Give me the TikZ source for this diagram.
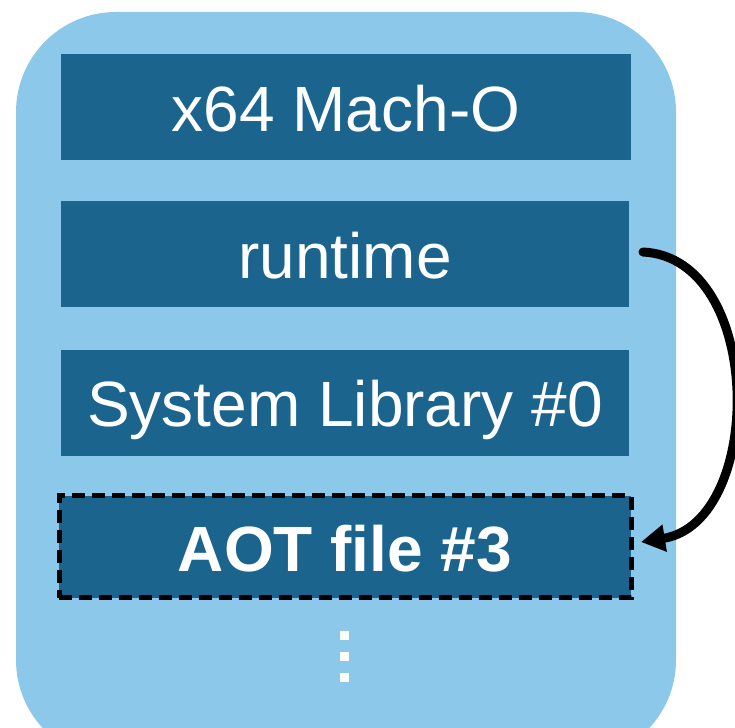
\documentclass[tikz,border=0pt]{standalone}
\usepackage{fontspec}
\setmainfont{Liberation Sans}
\usetikzlibrary{arrows.meta}
\definecolor{outerblue}{HTML}{8CC8EA}
\definecolor{boxblue}{HTML}{1B648E}
\tikzset{
  layer/.style={fill=boxblue, draw=none, text=white, text height=77pt, text depth=29pt, inner sep=0pt, font=\fontsize{64}{64}\selectfont},
  dashedlayer/.style={layer, text height=76pt, text depth=26pt, draw=black, line width=5pt, dash pattern=on 13pt off 7pt, font=\fontsize{64}{64}\selectfont\bfseries},
  jumparrow/.style={line width=9pt, line cap=round, -{Triangle[length=24pt,width=26pt]}},
  dotsq/.style={fill=white, draw=none, minimum size=9pt, inner sep=0pt}
}
\begin{document}
\begin{tikzpicture}[x=1pt,y=-1pt]
\useasboundingbox (0,0) rectangle (735,727);
\fill[outerblue, rounded corners=100pt] (16,12) rectangle (676,760);
\node[layer, minimum width=570pt] (mach) at (346,107.5) {x64 Mach-O};
\node[layer, minimum width=568pt] (rt) at (345,254) {runtime};
\node[layer, minimum width=568pt] (sys) at (345,402.5) {System Library \#0};
\node[dashedlayer, minimum width=572pt] (aot) at (345,546.5) {AOT file \#3};
\coordinate (s) at (643,252);
\coordinate (e) at (641,542);
\draw[jumparrow] (s) .. controls (765,258) and (765,522) .. (e);
\node[dotsq] (d1) at (344,635) {};
\node[dotsq] (d2) at (344,656) {};
\node[dotsq] (d3) at (344,677) {};
\end{tikzpicture}
\end{document}
